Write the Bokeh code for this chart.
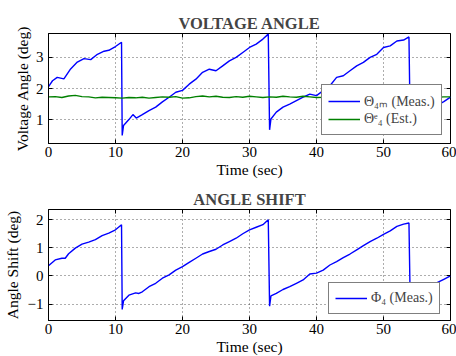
from bokeh.plotting import figure
from bokeh.models import LinearAxis, Range1d, FixedTicker, Legend, LegendItem
from bokeh.layouts import column
from bokeh.embed import file_html
from bokeh.resources import INLINE

# ---------------- data ----------------
x_ticks = [0, 10, 20, 30, 40, 50, 60]

theta_t = [0, 0.6, 1.3, 2.3, 3.3, 4.3, 5.3, 6.3, 7.3, 8.3, 9.0, 10, 10.9,
           11.0, 11.2, 12, 12.6, 13.1, 14, 15, 16, 17, 18, 19, 20, 21, 22, 23, 24,
           25, 26, 27, 28, 29, 30, 31, 32, 32.8,
           33.0, 33.2, 34, 35, 36, 37, 38, 39, 40, 41, 42, 43, 44, 45, 46, 47,
           48, 49, 50, 51, 52, 53, 53.8,
           54.0, 54.2, 55, 56, 57, 58, 59, 60]
theta_meas = [2.06, 2.25, 2.36, 2.31, 2.63, 2.85, 2.96, 2.93, 3.10, 3.20, 3.23, 3.35, 3.49,
              0.49, 0.81, 1.00, 1.16, 1.05, 1.16, 1.29, 1.40, 1.57, 1.72, 1.88, 1.94, 2.14,
              2.30, 2.52, 2.62, 2.57, 2.73, 2.89, 3.00, 3.16, 3.32, 3.43, 3.59, 3.75,
              0.67, 1.02, 1.24, 1.40, 1.50, 1.61, 1.72, 1.82, 1.77, 1.93, 2.09, 2.36,
              2.41, 2.57, 2.73, 2.84, 3.00, 3.10, 3.32, 3.37, 3.53, 3.56, 3.66,
              0.60, 0.90, 1.05, 1.20, 1.36, 1.46, 1.58, 1.72]

est_t = list(range(61))
theta_est = [1.73, 1.74, 1.71, 1.76, 1.78, 1.74, 1.73, 1.70, 1.72, 1.71,
             1.70, 1.69, 1.71, 1.70, 1.72, 1.69, 1.71, 1.73, 1.72, 1.74,
             1.69, 1.70, 1.74, 1.76, 1.73, 1.75, 1.72, 1.71, 1.74, 1.72,
             1.75, 1.73, 1.71, 1.73, 1.72, 1.75, 1.73, 1.72, 1.75, 1.73,
             1.71, 1.72, 1.74, 1.71, 1.72, 1.73, 1.75, 1.72, 1.73, 1.71,
             1.72, 1.74, 1.73, 1.72, 1.75, 1.73, 1.71, 1.74, 1.72, 1.73,
             1.73]

phi_t = [0, 1, 2, 2.5, 3, 4, 5, 6, 7, 8, 9, 10, 10.9,
         11.0, 11.2, 12, 13, 13.5, 14, 15, 16, 17, 18, 19, 20, 21, 22, 23, 24,
         25, 26, 27, 28, 29, 30, 31, 32, 32.8,
         33.0, 33.2, 34, 35, 36, 37, 38, 39, 40, 41, 42, 43, 44, 45, 46, 47,
         48, 49, 50, 51, 52, 53, 53.8,
         54.0, 54.2, 55, 56, 57, 58, 59, 60]
phi_meas = [0.36, 0.57, 0.63, 0.63, 0.79, 0.99, 1.13, 1.20, 1.29, 1.43, 1.52, 1.64, 1.82,
            -1.19, -0.88, -0.68, -0.60, -0.62, -0.56, -0.38, -0.26, -0.08, 0.04, 0.21,
            0.33, 0.48, 0.63, 0.78, 0.87, 0.95, 1.10, 1.22, 1.34, 1.50, 1.64, 1.73, 1.82, 2.00,
            -1.07, -0.71, -0.62, -0.48, -0.38, -0.26, -0.14, 0.07, 0.10, 0.21, 0.39, 0.51,
            0.65, 0.78, 0.93, 1.08, 1.22, 1.34, 1.48, 1.60, 1.76, 1.84, 1.88,
            -1.10, -0.85, -0.70, -0.50, -0.32, -0.24, -0.12, 0.00]

top_yticks = [1, 2, 3]
bot_yticks = [-1, 0, 1, 2]

FONT = "Liberation Serif"


def make_fig(title, ylabel, yr, yticks, fh, top_border, bottom_border, ylab_standoff):
    p = figure(title=title, frame_width=402, frame_height=fh,
               x_range=Range1d(0, 60), y_range=Range1d(*yr),
               output_backend="svg", toolbar_location=None,
               min_border_left=48, min_border_right=6,
               min_border_top=top_border, min_border_bottom=bottom_border)
    p.title.text_font = FONT
    p.title.text_font_size = "16.5px"
    p.title.text_font_style = "bold"
    p.title.align = "center"
    p.title.standoff = 2
    p.outline_line_color = "black"
    p.outline_line_width = 1
    p.background_fill_color = "white"
    p.border_fill_color = "white"

    for ax in (p.xaxis[0], p.yaxis[0]):
        ax.major_label_text_font = FONT
        ax.major_label_text_font_size = "15px"
        ax.axis_label_text_font = FONT
        ax.axis_label_text_font_size = "15.5px"
        ax.axis_label_text_font_style = "normal"
        ax.major_tick_in = 4
        ax.major_tick_out = 0
        ax.minor_tick_line_color = None
        ax.axis_line_color = "black"
        ax.major_tick_line_color = "black"
        ax.major_label_text_color = "black"
        ax.axis_label_text_color = "black"
    p.xaxis[0].ticker = FixedTicker(ticks=x_ticks)
    p.yaxis[0].ticker = FixedTicker(ticks=yticks)
    p.xaxis[0].axis_label = "Time (sec)"
    p.yaxis[0].axis_label = ylabel
    p.xaxis[0].major_label_standoff = 3
    p.xaxis[0].axis_label_standoff = 1
    p.yaxis[0].major_label_standoff = 5
    p.yaxis[0].axis_label_standoff = ylab_standoff

    for loc, tk in (("right", yticks), ("above", x_ticks)):
        a = LinearAxis(ticker=FixedTicker(ticks=tk))
        a.major_label_text_font_size = "1px"
        a.major_label_text_color = None
        a.major_label_standoff = 0
        a.major_tick_in = 4
        a.major_tick_out = 0
        a.minor_tick_line_color = None
        a.axis_line_color = None
        a.major_tick_line_color = "black"
        p.add_layout(a, loc)

    p.grid.grid_line_color = "#333333"
    p.grid.grid_line_dash = "1 3"
    p.grid.grid_line_width = 1
    p.grid.grid_line_alpha = 0.8
    p.xgrid.ticker = FixedTicker(ticks=x_ticks)
    p.ygrid.ticker = FixedTicker(ticks=yticks)
    return p


def style_legend(lg):
    lg.border_line_color = "black"
    lg.border_line_width = 1.5
    lg.background_fill_color = "white"
    lg.background_fill_alpha = 1
    lg.label_text_font = FONT
    lg.label_text_font_size = "14px"
    lg.glyph_width = 32
    lg.glyph_height = 18
    lg.label_height = 18
    lg.label_standoff = 4
    lg.spacing = 0
    lg.padding = 6
    lg.margin = 0


p1 = make_fig("VOLTAGE ANGLE", "Voltage Angle (deg)", (0.23, 3.77), top_yticks, 110, 33, 36, 2)
r1 = p1.line(theta_t, theta_meas, line_color="#0000ff", line_width=1.4)
r2 = p1.line(est_t, theta_est, line_color="#008000", line_width=1.4)
lg1 = Legend(items=[LegendItem(label="Θ₄ₘ (Meas.)", renderers=[r1]),
                    LegendItem(label="Θᵉ₄ (Est.)", renderers=[r2])],
             location=(273, 8))
style_legend(lg1)
p1.add_layout(lg1)

p2 = make_fig("ANGLE SHIFT", "Angle Shift (deg)", (-1.58, 2.36), bot_yticks, 111, 29, 35, 4)
p2.yaxis[0].major_label_overrides = {-1: "−1"}
r3 = p2.line(phi_t, phi_meas, line_color="#0000ff", line_width=1.4)
lg2 = Legend(items=[LegendItem(label="Φ₄ (Meas.)", renderers=[r3])],
             location=(280, 6))
style_legend(lg2)
p2.add_layout(lg2)

layout = column(p1, p2, spacing=0)
open("out.html", "w").write(file_html(layout, INLINE))
